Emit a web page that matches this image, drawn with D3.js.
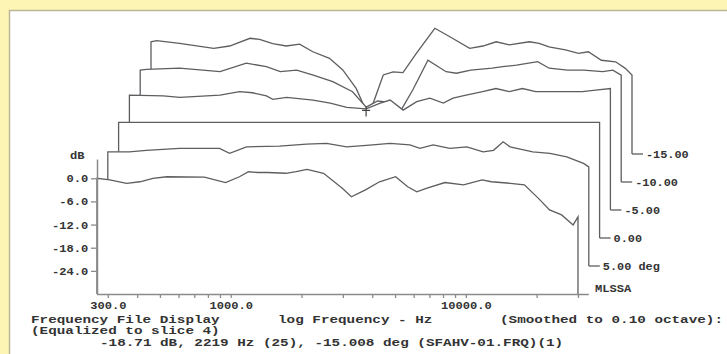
<!DOCTYPE html>
<html lang="en">
<head>
<meta charset="UTF-8">
<title>Frequency File Display</title>
<style>
  body { margin: 0; background: #fdf5b4; }
  svg { display: block; }
  text { font-family: "Liberation Mono", "DejaVu Sans Mono", monospace; font-weight: bold; font-size: 11px; fill: #333; }
</style>
</head>
<body>
<svg width="727" height="354"></svg>
<script src="https://d3js.org/d3.v7.min.js"></script>
<script>
// slices, front (nearest) to back; each slice has its own frequency list (Hz) and level (dB)
const frontHz = [270, 306, 361, 411, 467, 535, 773, 951, 1089, 1190, 1300, 1436, 1717, 1900, 2111, 2483, 2983, 3262, 3742, 4295, 5030, 5660, 6190, 6790, 8150, 9780, 11740, 12830, 15460, 17750, 20370, 22710, 25550, 28600, 30000];
const frontDb = [0, -0.4, -1.3, -0.9, 0, 0.4, 0.3, -1.1, 0.4, 1.7, 1.5, 1.5, 1.3, 1.7, 2.3, 1.3, -2.6, -4.8, -3.0, -0.9, 0.4, -2.2, -3.5, -2.6, -1.1, -1.7, -0.4, -0.9, -1.3, -1.7, -5.2, -8.2, -9.5, -12.1, -10];

const deg5Hz = [270, 333, 394, 545, 806, 890, 1050, 1450, 1890, 2300, 2800, 3620, 4280, 5200, 5740, 6530, 7690, 9090, 10660, 11800, 12970, 13870, 17330, 20500, 24180, 28480, 30000];
const deg5Db = [-0.4, -0.4, 0, 0.5, 0.5, -0.8, 0.9, 1.1, 1.6, 1.8, 0.9, 1.4, 1.8, 1.4, 0.5, 1.4, 0.5, 0.9, -0.4, 0, 2.2, 0.9, -0.4, -0.8, -1.7, -3.4, -4.3];

const deg0Hz = [270, 30000];
const deg0Db = [0, 0];

const degM5Hz = [270, 376, 443, 656, 794, 901, 1033, 1100, 1260, 1630, 1930, 2270, 2740, 3150, 3470, 3940, 4500, 5120, 5840, 6420, 7300, 8580, 9780, 11140, 12680, 14440, 16430, 22800, 25960, 30000];
const degM5Db = [-0.2, -0.4, -0.8, -0.2, 0.7, 0.4, -0.4, -1.3, -0.8, -1.5, -2.3, -3.4, -3.8, -2.3, -1.5, -4.1, -1.9, -1.0, -2.3, -1.0, -0.2, 0.7, 1.5, 0.7, 1.5, 0.7, 0.7, 0.7, 1.1, 1.5];

const degM10Hz = [270, 287, 397, 590, 763, 929, 1064, 1250, 1470, 1780, 2160, 2470, 2760, 3040, 3480, 3900, 4520, 5400, 5970, 6880, 8480, 9380, 10770, 13240, 14820, 17720, 20760, 25020, 27640, 30000];
const degM10Db = [-1.0, -0.8, -0.5, -1.4, 0.8, -0.1, -1.4, -1.0, -2.3, -4.0, -6.6, -10.6, -9.0, -9.3, -11.3, -6.1, 1.6, -1.4, -1.8, -1.0, -0.5, -0.1, 0.3, 1.2, -0.5, -1.0, -1.0, -1.4, -1.0, -2.3];

const degM15Hz = [270, 285, 357, 499, 583, 712, 782, 889, 1016, 1157, 1317, 1551, 1766, 2013, 2219, 2380, 2625, 2892, 3185, 3630, 4350, 5040, 6120, 6970, 7930, 9020, 10980, 12090, 13300, 15630, 17780, 19560, 22220, 25560, 28090, 30000];
const degM15Db = [-0.9, -0.6, -1.3, -2.6, -2.0, 0, -0.3, -1.4, -2.0, -1.5, -3.5, -5.2, -8.2, -13.0, -18.71, -16.8, -9.5, -8.7, -8.9, -3.9, 2.6, 0.4, -2.6, -2.0, -0.9, -1.7, -0.9, -1.3, -2.2, -3.0, -3.9, -3.5, -5.7, -6.1, -7.8, -9.5];

const sliceLabels = ["", "5.00 deg", "0.00", "-5.00", "-10.00", "-15.00"];

const yTicks = [0, -6, -12, -18, -24];
const xMajor = [300, 1000, 10000];
const xMajorLabels = ["300.0", "1000.0", "10000.0"];
const xMinor = [400, 500, 600, 700, 800, 900, 2000, 3000, 4000, 5000, 6000, 7000, 8000, 9000, 20000, 30000];

// cursor readout
const cursorSlice = 5, cursorHz = 2219, cursorDb = -18.71;

const width = 727, height = 354;
const ink = "#5e5e62";
const svg = d3.select("svg");

// yellow frame + white panel
svg.append("rect").attr("width", width).attr("height", height).attr("fill", "#fdf5b4");
svg.append("rect").attr("x", 9).attr("y", 10).attr("width", width - 9).attr("height", height - 10).attr("fill", "#fff");
svg.append("path").attr("d", `M9.5,${height} V10.5 H${width}`)
    .attr("fill", "none").attr("stroke", "#bdb699").attr("stroke-width", 1.5);

const x = d3.scaleLog().domain([270, 30000]).range([97, 578]);
const y = d3.scaleLinear().domain([-30, 5]).range([294, 159]);
const dx = 10.8, dy = -28; // shift per slice going back

const slices = [
    { hz: frontHz, db: frontDb },
    { hz: deg5Hz, db: deg5Db },
    { hz: deg0Hz, db: deg0Db },
    { hz: degM5Hz, db: degM5Db },
    { hz: degM10Hz, db: degM10Db },
    { hz: degM15Hz, db: degM15Db }
].map((s, i) => ({ ...s, i, label: sliceLabels[i] }));

const line = d3.line();

// painter's order: back first, each slice hides what is behind it
slices.slice().reverse().forEach(s => {
    const ox = s.i * dx, oy = s.i * dy;
    const pts = s.hz.map((f, j) => [x(f) + ox, y(s.db[j]) + oy]);
    const x0 = pts[0][0], x1 = pts[pts.length - 1][0];
    const yb = y(-30) + oy;
    const outline = [[x0, yb], ...pts, [x1, yb]];
    const g = svg.append("g");
    g.append("path").attr("d", line(outline) + "Z").attr("fill", "#fff");
    g.append("path").attr("d", line(outline))
        .attr("fill", "none").attr("stroke", ink).attr("stroke-width", 1.3);
    if (s.label) {
        g.append("line").attr("x1", x1).attr("x2", x1 + 11).attr("y1", yb).attr("y2", yb)
            .attr("stroke", ink).attr("stroke-width", 1.3);
        g.append("text").attr("transform", `translate(${x1 + 14},${yb + 4}) scale(1.08,1)`).text(s.label);
    }
});

// cursor mark
{
    const cx = x(cursorHz) + cursorSlice * dx, cy = y(cursorDb) + cursorSlice * dy;
    svg.append("path").attr("d", `M${cx - 4},${cy} H${cx + 4} M${cx},${cy - 4} V${cy + 6}`)
        .attr("stroke", "#444").attr("stroke-width", 1.2);
}

// axes
const axisColor = "#8a8a8a";
const gy = svg.append("g").attr("transform", "translate(97,0)")
    .call(d3.axisLeft(y).tickValues(yTicks).tickFormat(d => d.toFixed(1)).tickSize(6).tickSizeOuter(0));
const gx = svg.append("g").attr("transform", "translate(0,294)")
    .call(d3.axisBottom(x).tickValues(xMajor.concat(xMinor))
        .tickFormat(d => { const k = xMajor.indexOf(d); return k < 0 ? "" : xMajorLabels[k]; })
        .tickSize(4).tickSizeOuter(0));
gx.select(".domain").remove();
svg.append("line").attr("x1", 97).attr("x2", x(30000) + dx).attr("y1", 294.5).attr("y2", 294.5)
    .attr("stroke", axisColor).attr("stroke-width", 1.5);

[gx, gy].forEach(g => {
    g.attr("font-family", null).attr("font-size", null);
    g.selectAll(".domain").attr("stroke", axisColor).attr("stroke-width", 1.5);
    g.selectAll(".tick line").attr("stroke", axisColor).attr("stroke-width", 1.3);
    g.selectAll(".tick text").attr("fill", "#333").attr("transform", "scale(1.1,1)");
});
gx.selectAll(".tick text").attr("y", 7);
gy.selectAll(".tick text").attr("x", -8);

svg.append("text").attr("transform", "translate(70,159) scale(1.1,1)").text("dB");
svg.append("text").attr("transform", "translate(595,292) scale(1.1,1)").text("MLSSA");

// footer lines
const footer = [
    { t: "Frequency File Display", x: 31, y: 322.5 },
    { t: "log Frequency - Hz", x: 278, y: 322.5 },
    { t: "(Smoothed to 0.10 octave):", x: 500, y: 322.5 },
    { t: "(Equalized to slice 4)", x: 31, y: 334 },
    { t: "-18.71 dB, 2219 Hz (25), -15.008 deg (SFAHV-01.FRQ)(1)", x: 100, y: 345.5 }
];
svg.selectAll("text.footer").data(footer).join("text").attr("class", "footer")
    .attr("font-size", "9.5px")
    .attr("transform", d => `translate(${d.x},${d.y}) scale(1.3,1)`)
    .text(d => d.t);
</script>
</body>
</html>
